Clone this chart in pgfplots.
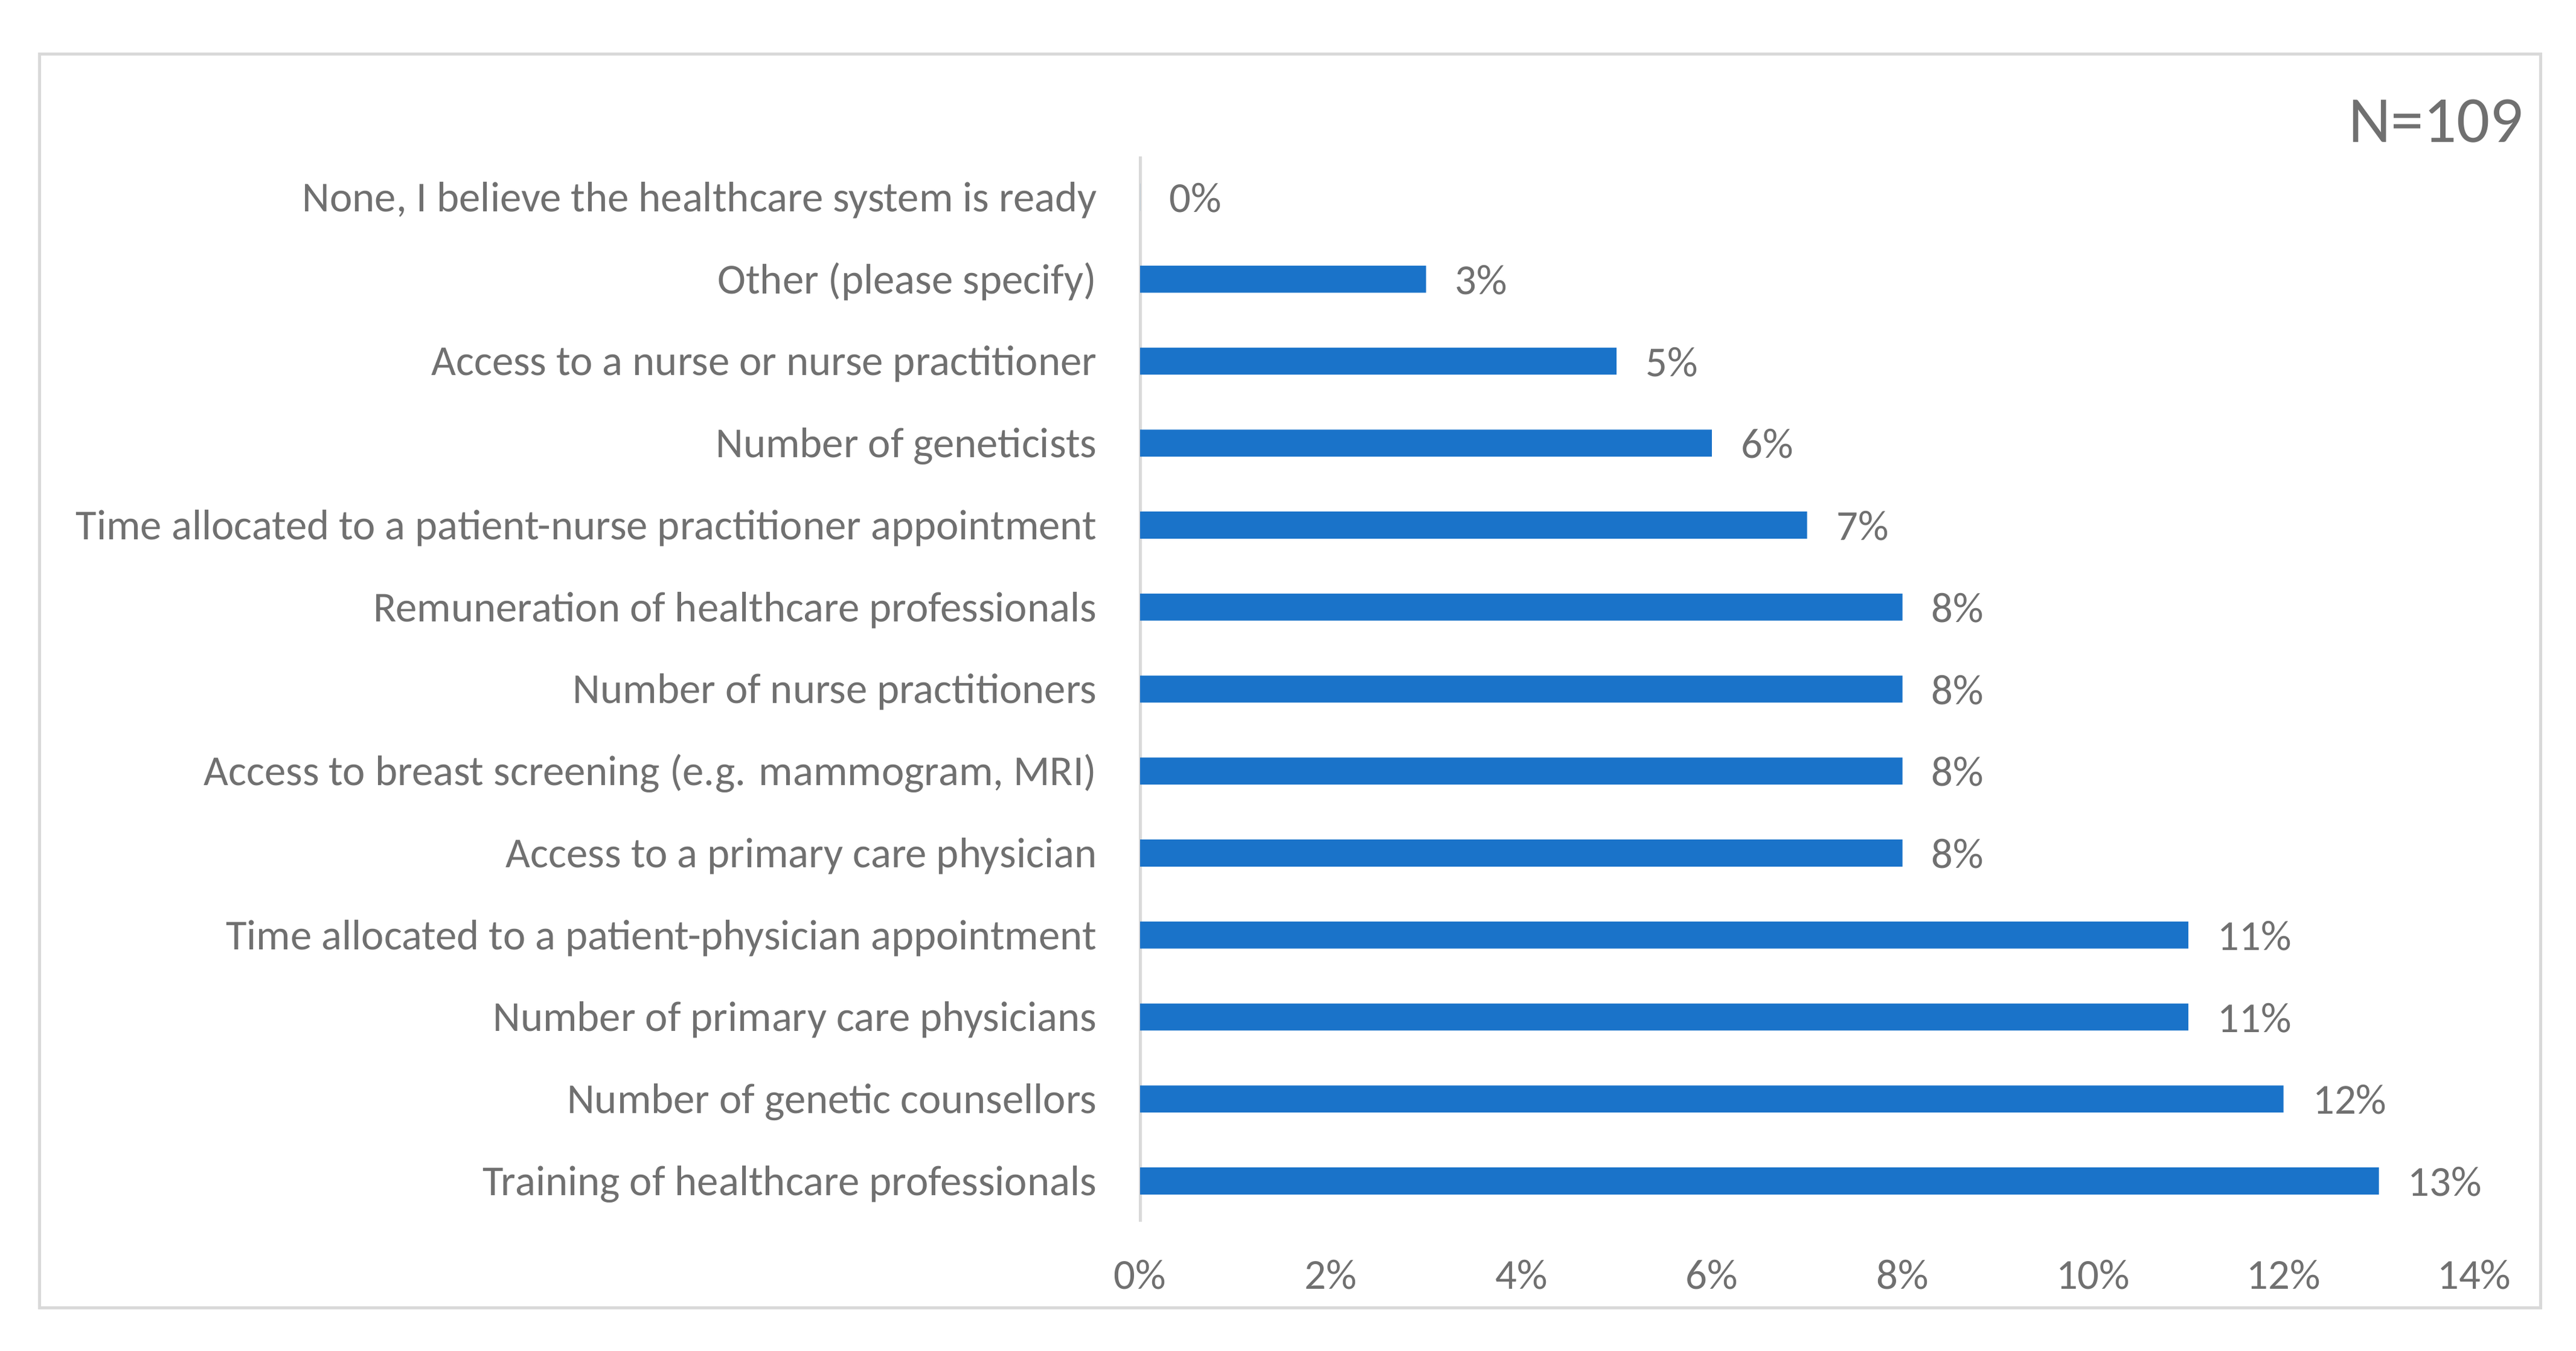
\documentclass[border=0pt]{standalone}
\usepackage{pgfplots}
\usepackage{fontspec}
\setmainfont{Carlito}
\pgfplotsset{compat=1.18}

\definecolor{barblue}{RGB}{26,115,201}
\definecolor{txtgray}{RGB}{112,112,112}
\definecolor{linegray}{RGB}{217,217,217}

\begin{document}
\begin{tikzpicture}
% page size and outer frame
\path (0,0) rectangle (784pt,411.1pt);
\draw[linegray, line width=0.9pt] (12pt,13.2pt) rectangle (773.3pt,394.7pt);

\begin{axis}[
    at={(347pt,39.25pt)}, anchor=south west,
    scale only axis,
    width=406pt, height=324.3pt,
    xbar,
    bar width=8.25pt,
    xmin=0, xmax=14,
    ymin=-0.5, ymax=12.5,
    enlargelimits=false,
    axis lines*=left,
    x axis line style={draw=none},
    y axis line style={draw=linegray, line width=0.9pt},
    tick style={draw=none},
    major tick length=0pt,
    font=\fontsize{13}{15.6}\selectfont,
    xtick={0,2,4,6,8,10,12,14},
    xticklabels={0\%,2\%,4\%,6\%,8\%,10\%,12\%,14\%},
    xticklabel style={anchor=base, inner sep=0pt, yshift=-20.5pt, text=txtgray},
    ytick={0,1,2,3,4,5,6,7,8,9,10,11,12},
    yticklabels={
        Training of healthcare professionals,
        Number of genetic counsellors,
        Number of primary care physicians,
        Time allocated to a patient-physician appointment,
        Access to a primary care physician,
        {Access to breast screening (e.g. mammogram, MRI)},
        Number of nurse practitioners,
        Remuneration of healthcare professionals,
        Time allocated to a patient-nurse practitioner appointment,
        Number of geneticists,
        Access to a nurse or nurse practitioner,
        Other (please specify),
        {None, I believe the healthcare system is ready}
    },
    yticklabel style={anchor=base east, inner sep=0pt, xshift=-13pt, yshift=-4.4pt, text=txtgray},
    /pgf/number format/assume math mode=true,
    nodes near coords={\pgfmathprintnumber[precision=0]{\pgfplotspointmeta}\%},
    every node near coord/.append style={anchor=base west, inner sep=0pt, xshift=8.7pt, yshift=-4.6pt, text=txtgray},
]
\addplot[fill=barblue, draw=none] coordinates {
    (13,0)
    (12,1)
    (11,2)
    (11,3)
    (8,4)
    (8,5)
    (8,6)
    (8,7)
    (7,8)
    (6,9)
    (5,10)
    (3,11)
    (0,12)
};
\end{axis}

\node[anchor=base east, inner sep=0pt, text=txtgray, font=\fontsize{20}{24}\selectfont] at (768.2pt,367.9pt) {N=109};
\end{tikzpicture}
\end{document}
